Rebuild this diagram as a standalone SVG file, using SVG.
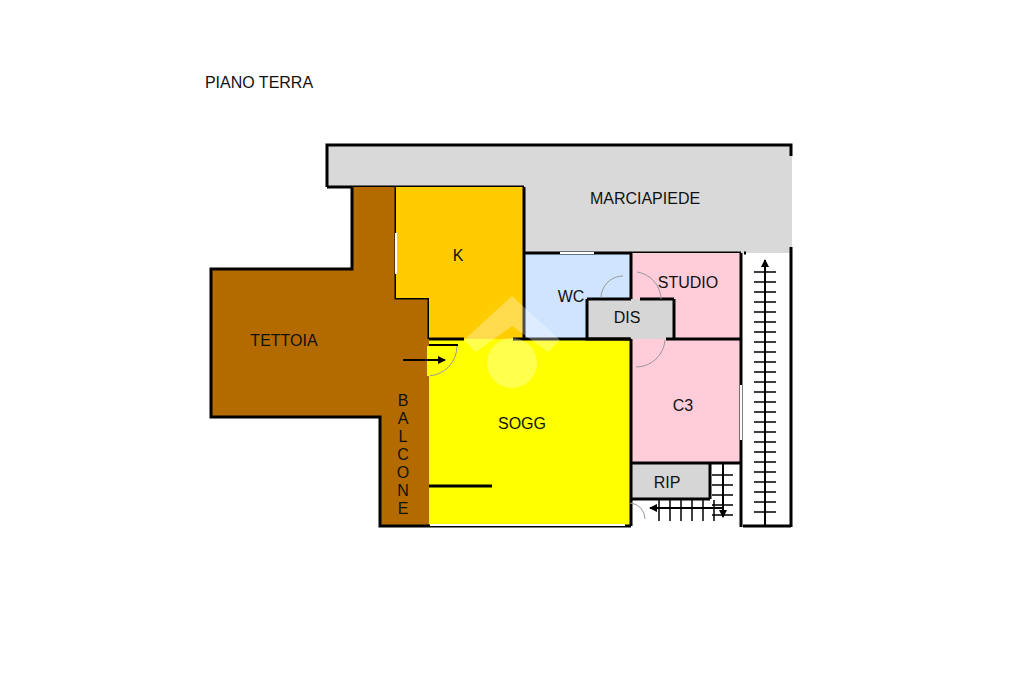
<svg xmlns="http://www.w3.org/2000/svg" width="1024" height="682" viewBox="0 0 1024 682">
<style>
text{font-family:"Liberation Sans",Arial,sans-serif;font-size:16px;fill:#111;text-anchor:middle}
.w{fill:none;stroke:#000;stroke-width:3}
.t{fill:none;stroke:#000;stroke-width:2}
.d{fill:none;stroke:#999;stroke-width:1}
.o{fill:none;stroke:#fff;stroke-width:2}
.s{fill:none;stroke:#000;stroke-width:1.5}
</style>
<defs>
<marker id="ah" markerWidth="10" markerHeight="10" refX="7" refY="4" orient="auto-start-reverse" markerUnits="userSpaceOnUse"><path d="M0 0L8 4L0 8z" fill="#000"/></marker>
</defs>
<rect width="1024" height="682" fill="#fff"/>
<g id="marciapiede"><path d="M327 144H792V253H524V187H327z" fill="#d9d9d9"/><path class="w" d="M327 187V145H791V156M327 187H524"/><text x="645" y="204">MARCIAPIEDE</text></g>
<g id="tettoia"><path d="M352 187H396V298H429V527H380V417H211V269H352z" fill="#b36b00"/><path class="w" d="M352 187V269H211V417H380V526H429M396 187V298H429V339"/><text x="284" y="346">TETTOIA</text></g>
<g id="k"><path d="M396 187H524V339H429V298H396z" fill="#ffcc00"/><path class="o" d="M396 233V274"/><text x="458" y="261">K</text></g>
<g id="wc"><path d="M524 253H631V299H587V339H524z" fill="#cfe5ff"/><path class="w" d="M524 187V340M524 253H741"/><path class="o" d="M560 253H594"/><text x="571" y="302">WC</text></g>
<g id="studio"><path d="M631 253H741V339H631z" fill="#ffccd9"/><text x="688" y="288">STUDIO</text></g>
<g id="c3"><path d="M631 339H741V463H631z" fill="#ffccd9"/><text x="683" y="411">C3</text></g>
<g id="dis"><path d="M587 299H674V339H587z" fill="#d6d6d6"/><text x="627" y="323">DIS</text></g>
<g id="sogg"><path d="M429 339H631V527H429z" fill="#ffff00"/><text x="522" y="429">SOGG</text></g>
<g id="rip"><path d="M631 463H710V499H631z" fill="#d6d6d6"/><text x="667" y="488">RIP</text></g>
<g id="balcone" style="font-size:16px"><text x="403" y="406">B</text><text x="403" y="424"> </text><text x="403" y="424">A</text><text x="403" y="442">L</text><text x="403" y="460">C</text><text x="403" y="478">O</text><text x="403" y="496">N</text><text x="403" y="514">E</text></g>
<g id="piano"><text x="259" y="88">PIANO TERRA</text></g>
<g id="walls">
<path class="w" d="M631 253V282M631 299V280M623 299H600M587 299V339H630M587 299H600M674 299V339M674 339H741M741 253V527M631 339V526M631 463H741M631 499H710M710 463V499M674 339H666M746 253H744M791 247V527M743 526H791M601 299H631M640 299H674"/>
<path class="w" d="M429 339H464M513 339H631"/>
<path class="w" d="M429 526H631"/>
<path class="t" d="M429 345H458"/>
<path class="w" d="M429 486H492"/>
<path class="o" d="M741 385V440M430 525H625"/>
<path class="d" d="M457 346A30 30 0 0 1 428 376M601 298A22 22 0 0 1 623 276M637 272A28 28 0 0 1 661 299M665 340A29 29 0 0 1 636 367M630 503A16 16 0 0 1 645 519"/>
<rect x="427" y="346" width="3" height="30" fill="#ffff00"/>
</g>
<g id="connectors">
<path class="t" d="M403 360H445" marker-end="url(#ah)"/>
<path class="t" d="M765 526V260" marker-end="url(#ah)"/>
<path class="s" d="M754 272H776M754 282H776M754 292H776M754 302H776M754 312H776M754 322H776M754 332H776M754 342H776M754 352H776M754 362H776M754 372H776M754 382H776M754 392H776M754 402H776M754 412H776M754 422H776M754 432H776M754 442H776M754 452H776M754 462H776M754 472H776M754 482H776M754 492H776M754 502H776M754 512H776"/>
<path class="s" d="M723 464V511M712 475H733M712 485H733M712 495H733M712 505H733M712 515H733"/>
<path class="t" d="M723 508H650" marker-end="url(#ah)"/>
<path class="t" d="M723 464V517" marker-end="url(#ah)"/>
<path class="s" d="M659 500V521M670 500V521M681 500V521M692 500V521M703 500V521M714 500V521"/>
</g>
<g id="watermark" fill="#fff" opacity="0.3"><path d="M512 296L560 340L548 352L512 326L476 352L464 340z"/><circle cx="512" cy="363" r="25"/></g>
</svg>
